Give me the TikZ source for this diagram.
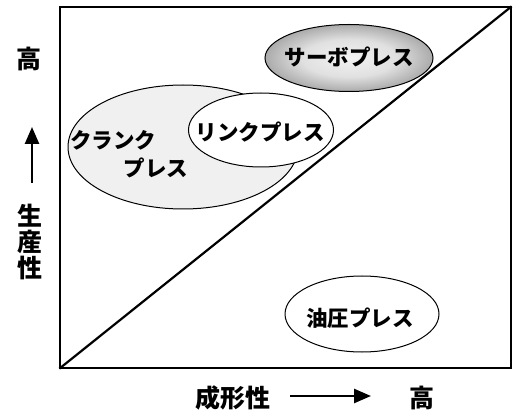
\documentclass[tikz,border=0pt]{standalone}
\usepackage{fontspec}
\newfontfamily\jp{Noto Sans CJK JP}
\usetikzlibrary{shapes.geometric,arrows.meta}
\pgfdeclareradialshading{servoshade}{\pgfpoint{0bp}{0bp}}{%
  color(0bp)=(black!5); color(14bp)=(black!12); color(26bp)=(black!35);
  color(38bp)=(black!62); color(50bp)=(black!85)}
\tikzset{
  lbl/.style={font=\jp\bfseries\fontsize{21.5}{21.5}\selectfont, inner sep=0pt},
  axl/.style={font=\jp\bfseries\fontsize{25}{25}\selectfont, inner sep=0pt},
  ell/.style={ellipse, draw, line width=1pt, inner sep=0pt},
  axarrow/.style={line width=2.6pt, -{Triangle[length=17pt,width=14pt]}}
}
\begin{document}
\begin{tikzpicture}[x=1pt,y=-1pt]
\useasboundingbox (0,0) rectangle (517,414);
% frame
\node[draw, line width=1.3pt, minimum width=451pt, minimum height=361pt, inner sep=0pt] (box) at (285.5,187.5) {};
% crank
\node[ell, fill=black!6, minimum width=230pt, minimum height=124pt] (crank) at (183,147) {};
\node[lbl] (crank1) at (113,140) {クランク};
\node[lbl] (crank2) at (156,168) {プレス};
% link
\node[ell, fill=white, minimum width=145pt, minimum height=74pt] (link) at (261,130) {};
\node[lbl] (linkt) at (260,132) {リンクプレス};
% servo
\node[ell, shading=servoshade, minimum width=168pt, minimum height=67pt] (servo) at (349,58) {};
\node[lbl] (servot) at (349,57) {サーボプレス};
% oil
\node[ell, fill=white, minimum width=154pt, minimum height=76pt] (oil) at (362,314) {};
\node[lbl] (oilt) at (360,318) {油圧プレス};
% diagonal
\draw[line width=2.2pt] (box.south west) -- (box.north east);
% y axis label
\node[axl] (yhigh) at (29,59) {高};
\coordinate (ya) at (32,183);
\coordinate (yb) at (32,127);
\draw[axarrow] (ya) -- (yb);
\node[axl] (y1) at (30,216) {生};
\node[axl] (y2) at (30,242) {産};
\node[axl] (y3) at (30,268) {性};
% x axis label
\node[axl] (xlab) at (233,398) {成形性};
\coordinate (xa) at (290,396);
\coordinate (xb) at (371,396);
\draw[axarrow] (xa) -- (xb);
\node[axl] (xhigh) at (422,398) {高};
\end{tikzpicture}
\end{document}
